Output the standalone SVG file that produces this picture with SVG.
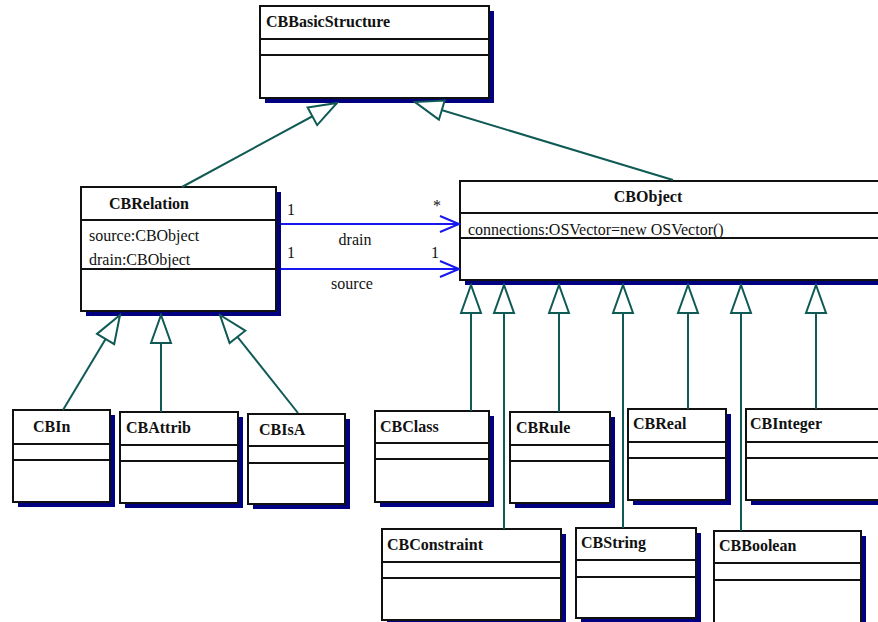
<svg xmlns="http://www.w3.org/2000/svg" width="878" height="622" viewBox="0 0 878 622">
  <style>
    .shadow { fill: #000080; }
    .box { fill: #ffffff; stroke: #111111; stroke-width: 2; }
    .div { stroke: #111111; stroke-width: 2; }
    .title { font-family: "Liberation Serif", "Times New Roman", serif; font-weight: bold; font-size: 16px; fill: #111111; }
    .attr { font-family: "Liberation Serif", "Times New Roman", serif; font-size: 16px; fill: #111111; }
    .label { font-family: "Liberation Serif", "Times New Roman", serif; font-size: 16px; fill: #111111; }
    .gen { fill: none; stroke: #0f5a55; stroke-width: 2; marker-end: url(#tri); }
    .assoc { fill: none; stroke: #1717f0; stroke-width: 2; marker-end: url(#open); }
  </style>
  <defs>
    <!-- hollow triangle for generalization -->
    <marker id="tri" markerUnits="userSpaceOnUse" viewBox="0 0 32 24" refX="30" refY="12" markerWidth="32" markerHeight="24" orient="auto">
      <path d="M2,2 L30,12 L2,22 Z" fill="#ffffff" stroke="#0f5a55" stroke-width="2" stroke-linejoin="miter"/>
    </marker>
    <!-- open arrowhead for navigable associations -->
    <marker id="open" markerUnits="userSpaceOnUse" viewBox="0 0 24 20" refX="21" refY="10" markerWidth="24" markerHeight="20" orient="auto">
      <path d="M2,2 L21,10 L2,18" fill="none" stroke="#1717f0" stroke-width="2"/>
    </marker>
  </defs>

  <!-- classes -->
  <g id="CBBasicStructure">
    <rect class="shadow" x="265" y="11" width="229" height="92"/>
    <rect class="box" x="260" y="6" width="229" height="92"/>
    <line class="div" x1="260" y1="39" x2="489" y2="39"/>
    <line class="div" x1="260" y1="55" x2="489" y2="55"/>
    <text class="title" x="266" y="27">CBBasicStructure</text>
  </g>

  <g id="CBRelation">
    <rect class="shadow" x="86" y="192" width="195" height="124"/>
    <rect class="box" x="81" y="187" width="195" height="124"/>
    <line class="div" x1="81" y1="220" x2="276" y2="220"/>
    <line class="div" x1="81" y1="269" x2="276" y2="269"/>
    <text class="title" x="109" y="209">CBRelation</text>
    <text class="attr" x="89" y="241">source:CBObject</text>
    <text class="attr" x="89" y="265">drain:CBObject</text>
  </g>

  <g id="CBObject">
    <rect class="shadow" x="465" y="186" width="430" height="99"/>
    <rect class="box" x="460" y="181" width="430" height="99"/>
    <line class="div" x1="460" y1="213" x2="890" y2="213"/>
    <line class="div" x1="460" y1="238" x2="890" y2="238"/>
    <text class="title" x="648" y="202" text-anchor="middle">CBObject</text>
    <text class="attr" x="468" y="235">connections:OSVector=new OSVector()</text>
  </g>

  <g id="CBIn">
    <rect class="shadow" x="18" y="415" width="97" height="92"/>
    <rect class="box" x="13" y="410" width="97" height="92"/>
    <line class="div" x1="13" y1="444" x2="110" y2="444"/>
    <line class="div" x1="13" y1="460" x2="110" y2="460"/>
    <text class="title" x="33" y="432">CBIn</text>
  </g>

  <g id="CBAttrib">
    <rect class="shadow" x="125" y="417" width="118" height="91"/>
    <rect class="box" x="120" y="412" width="118" height="91"/>
    <line class="div" x1="120" y1="445" x2="238" y2="445"/>
    <line class="div" x1="120" y1="461" x2="238" y2="461"/>
    <text class="title" x="126" y="433">CBAttrib</text>
  </g>

  <g id="CBIsA">
    <rect class="shadow" x="253" y="419" width="97" height="90"/>
    <rect class="box" x="248" y="414" width="97" height="90"/>
    <line class="div" x1="248" y1="446" x2="345" y2="446"/>
    <line class="div" x1="248" y1="463" x2="345" y2="463"/>
    <text class="title" x="259" y="435">CBIsA</text>
  </g>

  <g id="CBClass">
    <rect class="shadow" x="380" y="416" width="114" height="91"/>
    <rect class="box" x="375" y="411" width="114" height="91"/>
    <line class="div" x1="375" y1="443" x2="489" y2="443"/>
    <line class="div" x1="375" y1="459" x2="489" y2="459"/>
    <text class="title" x="380" y="432">CBClass</text>
  </g>

  <g id="CBRule">
    <rect class="shadow" x="515" y="417" width="100" height="91"/>
    <rect class="box" x="510" y="412" width="100" height="91"/>
    <line class="div" x1="510" y1="445" x2="610" y2="445"/>
    <line class="div" x1="510" y1="461" x2="610" y2="461"/>
    <text class="title" x="516" y="433">CBRule</text>
  </g>

  <g id="CBReal">
    <rect class="shadow" x="633" y="414" width="98" height="91"/>
    <rect class="box" x="628" y="409" width="98" height="91"/>
    <line class="div" x1="628" y1="442" x2="726" y2="442"/>
    <line class="div" x1="628" y1="458" x2="726" y2="458"/>
    <text class="title" x="633" y="429">CBReal</text>
  </g>

  <g id="CBInteger">
    <rect class="shadow" x="751" y="414" width="150" height="91"/>
    <rect class="box" x="746" y="409" width="150" height="91"/>
    <line class="div" x1="746" y1="442" x2="896" y2="442"/>
    <line class="div" x1="746" y1="458" x2="896" y2="458"/>
    <text class="title" x="750" y="429">CBInteger</text>
  </g>

  <g id="CBConstraint">
    <rect class="shadow" x="387" y="534" width="179" height="91"/>
    <rect class="box" x="382" y="529" width="179" height="91"/>
    <line class="div" x1="382" y1="562" x2="561" y2="562"/>
    <line class="div" x1="382" y1="578" x2="561" y2="578"/>
    <text class="title" x="387" y="550">CBConstraint</text>
  </g>

  <g id="CBString">
    <rect class="shadow" x="581" y="533" width="120" height="90"/>
    <rect class="box" x="576" y="528" width="120" height="90"/>
    <line class="div" x1="576" y1="560" x2="696" y2="560"/>
    <line class="div" x1="576" y1="577" x2="696" y2="577"/>
    <text class="title" x="581" y="548">CBString</text>
  </g>

  <g id="CBBoolean">
    <rect class="shadow" x="719" y="536" width="147" height="100"/>
    <rect class="box" x="714" y="531" width="147" height="100"/>
    <line class="div" x1="714" y1="563" x2="861" y2="563"/>
    <line class="div" x1="714" y1="580" x2="861" y2="580"/>
    <text class="title" x="719" y="551">CBBoolean</text>
  </g>

  <!-- connectors -->
  <g id="connectors">
    <path class="gen" d="M182,187 L337,103"/>
    <path class="gen" d="M673,180 L415,102"/>
    <path class="gen" d="M63,410 L120,315"/>
    <path class="gen" d="M161,412 L161,315"/>
    <path class="gen" d="M298,413 L220,315"/>
    <path class="gen" d="M471,411 L471,285"/>
    <path class="gen" d="M504,529 L504,285"/>
    <path class="gen" d="M559,412 L559,285"/>
    <path class="gen" d="M623,528 L623,285"/>
    <path class="gen" d="M688,409 L688,285"/>
    <path class="gen" d="M741,531 L741,285"/>
    <path class="gen" d="M816,409 L816,285"/>

    <path class="assoc" d="M281,224 L459,224"/>
    <path class="assoc" d="M281,269 L459,269"/>
    <text class="label" x="287" y="215">1</text>
    <text class="label" x="433" y="211">*</text>
    <text class="label" x="355" y="245" text-anchor="middle">drain</text>
    <text class="label" x="287" y="258">1</text>
    <text class="label" x="431" y="258">1</text>
    <text class="label" x="352" y="289" text-anchor="middle">source</text>
  </g>
</svg>
